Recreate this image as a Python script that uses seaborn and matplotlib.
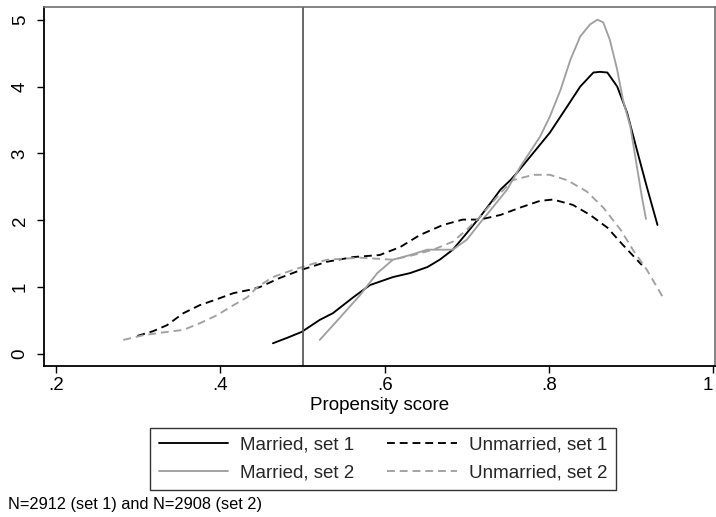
import numpy as np
import pandas as pd
import matplotlib
matplotlib.use("Agg")
import matplotlib.pyplot as plt
import seaborn as sns

# --- data ---
married1_x = [0.464, 0.481, 0.499, 0.521, 0.537, 0.562, 0.582, 0.610, 0.631, 0.652, 0.667, 0.683,
              0.700, 0.716, 0.732, 0.741, 0.753, 0.761, 0.781, 0.801, 0.822, 0.838, 0.854, 0.862,
              0.871, 0.883, 0.895, 0.907, 0.919, 0.932]
married1_y = [0.16, 0.24, 0.33, 0.51, 0.61, 0.85, 1.03, 1.15, 1.21, 1.30, 1.41, 1.56,
              1.81, 2.05, 2.31, 2.46, 2.60, 2.71, 3.01, 3.31, 3.70, 4.00, 4.21, 4.22,
              4.21, 4.00, 3.61, 3.05, 2.50, 1.93]

married2_x = [0.521, 0.546, 0.570, 0.591, 0.610, 0.631, 0.652, 0.667, 0.683, 0.700, 0.716, 0.732,
              0.749, 0.765, 0.789, 0.801, 0.814, 0.826, 0.838, 0.850, 0.859, 0.866, 0.874, 0.883,
              0.890, 0.899, 0.907, 0.913, 0.918]
married2_y = [0.21, 0.55, 0.88, 1.21, 1.41, 1.48, 1.56, 1.56, 1.56, 1.71, 1.96, 2.20,
              2.46, 2.80, 3.25, 3.55, 3.95, 4.40, 4.75, 4.93, 5.00, 4.96, 4.70, 4.25,
              3.80, 3.40, 2.80, 2.35, 2.02]

unmarried1_x = [0.299, 0.318, 0.335, 0.355, 0.375, 0.396, 0.416, 0.436, 0.448, 0.473, 0.499, 0.530,
                0.562, 0.594, 0.619, 0.643, 0.671, 0.695, 0.716, 0.741, 0.765, 0.789, 0.805, 0.829,
                0.850, 0.871, 0.890, 0.913]
unmarried1_y = [0.27, 0.34, 0.43, 0.61, 0.73, 0.82, 0.91, 0.96, 1.00, 1.14, 1.26, 1.38,
                1.45, 1.48, 1.60, 1.78, 1.93, 2.01, 2.01, 2.08, 2.19, 2.29, 2.31, 2.23,
                2.08, 1.89, 1.63, 1.33]

unmarried2_x = [0.282, 0.306, 0.335, 0.355, 0.375, 0.396, 0.416, 0.433, 0.445, 0.464, 0.489, 0.513,
                0.530, 0.570, 0.610, 0.635, 0.659, 0.683, 0.700, 0.716, 0.741, 0.756, 0.781, 0.801,
                0.822, 0.846, 0.866, 0.887, 0.902, 0.919, 0.939]
unmarried2_y = [0.21, 0.28, 0.33, 0.36, 0.46, 0.58, 0.73, 0.85, 1.00, 1.15, 1.26, 1.35,
                1.41, 1.44, 1.41, 1.48, 1.56, 1.68, 1.86, 2.05, 2.41, 2.60, 2.68, 2.68,
                2.60, 2.43, 2.19, 1.86, 1.56, 1.26, 0.84]

labels = ["Married, set 1", "Married, set 2", "Unmarried, set 1", "Unmarried, set 2"]
x_ticks = [0.2, 0.4, 0.6, 0.8, 1.0]
x_ticklabels = [".2", ".4", ".6", ".8", "1"]
y_ticks = [0, 1, 2, 3, 4, 5]
cutoff = 0.5
note = "N=2912 (set 1) and N=2908 (set 2)"

sns.set_theme(style="white")
plt.rcParams["font.family"] = ["Liberation Sans", "DejaVu Sans"]

fig = plt.figure(figsize=(7.16, 5.17), dpi=100)
H_AX = 366 - 7
ax = fig.add_axes([44 / 716, 1 - 366 / 517, (715 - 44) / 716, H_AX / 517])

GRAY = "#a0a0a0"
lw = 1.35
dash = (4.2, 2.6)
series = [
    (married1_x, married1_y, "black", None),
    (married2_x, married2_y, GRAY, None),
    (unmarried1_x, unmarried1_y, "black", dash),
    (unmarried2_x, unmarried2_y, GRAY, dash),
]
handles = []
for (xs, ys, c, d), lab in zip(series, labels):
    df = pd.DataFrame({"x": xs, "y": ys})
    sns.lineplot(data=df, x="x", y="y", ax=ax, color=c, lw=lw, sort=False,
                 estimator=None, label=lab, legend=False)
    line = ax.lines[-1]
    line.set_solid_joinstyle("round")
    if d is not None:
        line.set_dashes(d)
    handles.append(line)

ax.axvline(cutoff, color="#5a5a5a", lw=1.3)

FS = 13.5
ax.set_xlim(0.1854, 1.002)
ax.set_ylim(-0.18, 5.19)
ax.set_xticks(x_ticks)
ax.set_xticklabels(x_ticklabels)
ax.set_yticks(y_ticks)
ax.set_yticklabels([str(v) for v in y_ticks], rotation=90, va="center")
ax.tick_params(axis="both", direction="out", length=5, width=1, color="black",
               labelsize=FS, colors="black", bottom=True, left=True)
ax.tick_params(axis="x", pad=3)
ax.tick_params(axis="y", pad=6)
ax.get_xticklabels()[-1].set_horizontalalignment("right")
ax.set_xlabel("Propensity score", fontsize=FS, color="black")
ax.xaxis.set_label_coords(0.5, -(406 - 366) / H_AX)
ax.xaxis.label.set_va("center")
ax.set_ylabel("")

for s in ["left", "bottom"]:
    ax.spines[s].set_color("black")
    ax.spines[s].set_linewidth(1.3)
for s in ["top", "right"]:
    ax.spines[s].set_color("#707070")
    ax.spines[s].set_linewidth(1.2)

leg = fig.legend(handles=handles, labels=labels, ncol=2,
                 loc="center", bbox_to_anchor=(383 / 716, 1 - 458.5 / 517),
                 frameon=True, fancybox=False, edgecolor="black", fontsize=FS,
                 handlelength=3.7, columnspacing=1.75, handletextpad=0.65,
                 borderpad=0.45, labelspacing=0.58, borderaxespad=0)
leg.get_frame().set_linewidth(1.0)

fig.text(8 / 716, 1 - 505 / 517, note, fontsize=11.8, color="black", va="center", ha="left")

fig.savefig("out.png", dpi=100, facecolor="white")
